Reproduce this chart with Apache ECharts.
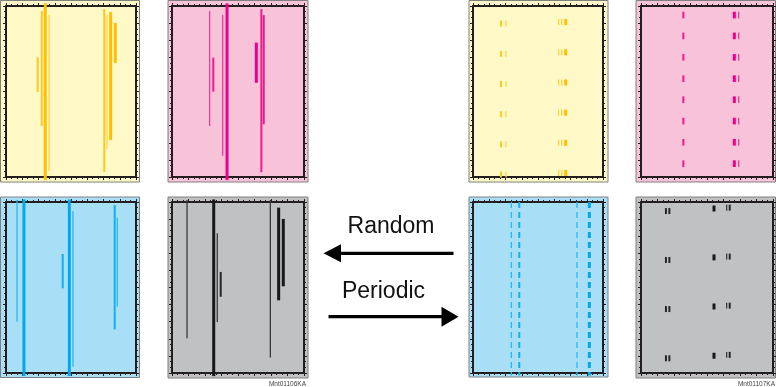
<!DOCTYPE html>
<html>
<head>
<meta charset="utf-8">
<script src="https://cdn.jsdelivr.net/npm/echarts@6/dist/echarts.min.js"></script>
<style>
html,body{margin:0;padding:0;background:#fff;}
#chart{width:776px;height:387px;}
</style>
</head>
<body>
<div id="chart"></div>
<script>
// ---------- DATA (x and y in % of the page frame; y measured from top) ----------
// Random – yellow
const yelRandX     = [24.4, 27.5, 30.2, 33.1, 75.6, 77.7, 80.5, 84.1];
const yelRandStart = [30.0, 2.9, -1.5, 5.3, 1.8, 5.3, 3.5, 9.9];
const yelRandEnd   = [50.3, 70.2, 101.8, 96.5, 97.1, 83.6, 78.4, 33.3];
const yelRandLevel = [2, 2, 3, 1, 2, 1, 3, 3];
// Random – magenta
const magRandX     = [28.5, 31.3, 38.4, 41.7, 63.9, 67.7, 69.5];
const magRandStart = [2.9, 30.2, 5.3, -1.5, 21.4, 1.8, 5.3];
const magRandEnd   = [70.2, 50.1, 87.5, 101.8, 44.9, 97.2, 69.2];
const magRandLevel = [1, 2, 1, 3, 3, 2, 2];
// Random – cyan
const cyaRandX     = [8.5, 13.8, 43.6, 48.7, 51.5, 83.6, 85.6];
const cyaRandStart = [-1.2, -1.5, 30.4, -1.5, 5.3, 1.8, 9.2];
const cyaRandEnd   = [70.0, 101.8, 50.5, 101.8, 96.3, 74.5, 61.2];
const cyaRandLevel = [1, 3, 2, 3, 1, 2, 1];
// Random – black
const blkRandX     = [11.4, 31.6, 34.3, 36.9, 74.5, 80.8, 84.3];
const blkRandStart = [-1.2, -1.5, 18.3, 40.9, -1.2, 3.3, 9.9];
const blkRandEnd   = [79.7, 101.8, 70.2, 55.4, 91.0, 57.5, 49.3];
const blkRandLevel = [1, 3, 1, 2, 1, 3, 3];

// Periodic – yellow (columns x, column shift, level; rows = mark centres)
const yelPerCols  = [21.5, 25.4, 65.9, 68.2, 71.3];
const yelPerShift = [0, 0, -0.9, -0.9, -0.9];
const yelPerLevel = [2, 1, 1, 1, 3];
const yelPerRows  = [10.3, 28.0, 45.6, 63.3, 80.9, 98.5];
const yelPerLen   = 3.5;
// Periodic – magenta
const magPerCols  = [32.1, 70.7, 74.0];
const magPerShift = [0, 0, 0];
const magPerLevel = [2, 3, 1];
const magPerRows  = [5.3, 17.5, 30.0, 42.5, 54.8, 67.3, 79.7, 92.2];
const magPerLen   = 3.9;
// Periodic – cyan (continuous dashed lines)
const cyaPerCols  = [29.5, 35.6, 80.0, 89.5];
const cyaPerLevel = [1, 2, 1, 3];
const cyaPerStart = 0;
const cyaPerEnd   = 101.5;
// Periodic – black
const blkPerCols  = [18.9, 21.5, 55.3, 64.9, 67.2];
const blkPerShift = [0, 0, -1.5, -2.0, -2.0];
const blkPerLevel = [2, 2, 3, 1, 2];
const blkPerRows  = [5.3, 33.9, 62.6, 91.4];
const blkPerLen   = 3.5;

// ---------- build ----------
function randomData(xs, s, e, lv){ return xs.map((x,i)=>[x, s[i], e[i], lv[i]]); }
function periodicData(cols, shift, lv, rows, len){
  const out=[];
  cols.forEach((x,c)=>rows.forEach(r=>out.push([x, r+shift[c]-len/2, r+shift[c]+len/2, lv[c]])));
  return out;
}
function lineData(cols, lv, s, e){ return cols.map((x,i)=>[x, s, e, lv[i]]); }

const palettes = {
  yellow:{bg:'#FFF9C8', line:{1:'#FFD343',2:'#FFC81C',3:'#FFC000'}},
  pink:  {bg:'#F8C2D9', line:{1:'#EE3A9A',2:'#EC1B8E',3:'#EC008C'}},
  blue:  {bg:'#A9DFF6', line:{1:'#2CB7EE',2:'#13B0EE',3:'#00A9EC'}},
  gray:  {bg:'#C0C1C3', line:{1:'#3A3A3A',2:'#262626',3:'#181818'}}
};
const widths = {1:1.3, 2:2, 3:3};

const panels = [
  {frame:[6,6,130,171],   outer:[0.5,0.5,139,181.5], pal:'yellow', data:randomData(yelRandX,yelRandStart,yelRandEnd,yelRandLevel)},
  {frame:[172,6,132,171], outer:[168,0.5,140,181.5], pal:'pink',   data:randomData(magRandX,magRandStart,magRandEnd,magRandLevel)},
  {frame:[473,6,130,171], outer:[469,0.5,139,181.5], pal:'yellow', data:periodicData(yelPerCols,yelPerShift,yelPerLevel,yelPerRows,yelPerLen)},
  {frame:[641,6,132,171], outer:[636,0.5,139.5,181.5], pal:'pink', data:periodicData(magPerCols,magPerShift,magPerLevel,magPerRows,magPerLen)},
  {frame:[6,202,130,171], outer:[0.5,197,139,180.5], pal:'blue',   data:randomData(cyaRandX,cyaRandStart,cyaRandEnd,cyaRandLevel)},
  {frame:[172,202,132,171], outer:[168,197,140,181], pal:'gray',   data:randomData(blkRandX,blkRandStart,blkRandEnd,blkRandLevel)},
  {frame:[473,202,130,171], outer:[469,197,139,180], pal:'blue',   data:lineData(cyaPerCols,cyaPerLevel,cyaPerStart,cyaPerEnd), dash:[6,4]},
  {frame:[641,202,132,171], outer:[636,197,139.5,181], pal:'gray', data:periodicData(blkPerCols,blkPerShift,blkPerLevel,blkPerRows,blkPerLen)}
];

const frameColor = '#231F20';
function mkAxis(pos, isY, gi){
  return {
    type:'value', gridIndex:gi, min:0, max:100, position:pos, inverse:isY,
    interval: isY ? 10 : 12.5,
    axisLine:{show:true, onZero:false, lineStyle:{color:frameColor, width:2}},
    axisTick:{show:true, inside:false, length:3, lineStyle:{color:frameColor, width:1}},
    minorTick:{show:true, splitNumber:3, length:2, lineStyle:{color:frameColor, width:1}},
    axisLabel:{show:false}, splitLine:{show:false}, minorSplitLine:{show:false}
  };
}

const grid=[], xAxis=[], yAxis=[], series=[], graphic=[];
panels.forEach((p,i)=>{
  grid.push({left:p.frame[0], top:p.frame[1], width:p.frame[2], height:p.frame[3], show:false});
  xAxis.push(mkAxis('bottom', false, i)); xAxis.push(mkAxis('top', false, i));
  yAxis.push(mkAxis('left', true, i));    yAxis.push(mkAxis('right', true, i));
  const pal = palettes[p.pal];
  graphic.push({type:'rect', z:-10, shape:{x:p.outer[0], y:p.outer[1], width:p.outer[2], height:p.outer[3]},
    style:{fill:pal.bg, stroke:'#808080', lineWidth:1}});
  series.push({
    type:'custom', xAxisIndex:2*i, yAxisIndex:2*i, z:5, clip:false, silent:true,
    data:p.data,
    renderItem:(params, api)=>{
      const a = api.coord([api.value(0), api.value(1)]);
      const b = api.coord([api.value(0), api.value(2)]);
      const lv = api.value(3);
      const st = {stroke:pal.line[lv], lineWidth:widths[lv]};
      if (p.dash) st.lineDash = p.dash;
      return {type:'line', shape:{x1:a[0], y1:a[1], x2:b[0], y2:b[1]}, style:st};
    }
  });
});

// arrows & labels
const arrowColor = '#000';
graphic.push(
  {type:'text', z:20, style:{text:'Random', x:391, y:227, align:'center', verticalAlign:'middle', font:'23px "Liberation Sans", Arial, sans-serif', fill:'#111'}},
  {type:'line', z:20, shape:{x1:339, y1:253.3, x2:453.5, y2:253.3}, style:{stroke:arrowColor, lineWidth:3.3}},
  {type:'polygon', z:20, shape:{points:[[323.5,253.3],[341,244.3],[341,262.3]]}, style:{fill:arrowColor}},
  {type:'text', z:20, style:{text:'Periodic', x:383.5, y:292, align:'center', verticalAlign:'middle', font:'23px "Liberation Sans", Arial, sans-serif', fill:'#111'}},
  {type:'line', z:20, shape:{x1:328.5, y1:316.7, x2:443, y2:316.7}, style:{stroke:arrowColor, lineWidth:3.3}},
  {type:'polygon', z:20, shape:{points:[[458.5,316.7],[441.5,306.7],[441.5,326.7]]}, style:{fill:arrowColor}},
  {type:'text', z:20, style:{text:'Mnt01106KA', x:306, y:384, align:'right', verticalAlign:'middle', font:'6.5px "Liberation Sans", Arial, sans-serif', fill:'#444'}},
  {type:'text', z:20, style:{text:'Mnt01107KA', x:775, y:384, align:'right', verticalAlign:'middle', font:'6.5px "Liberation Sans", Arial, sans-serif', fill:'#444'}}
);

const chart = echarts.init(document.getElementById('chart'), null, {renderer:'canvas'});
chart.setOption({animation:false, backgroundColor:'#fff', grid, xAxis, yAxis, series, graphic});
</script>
</body>
</html>
